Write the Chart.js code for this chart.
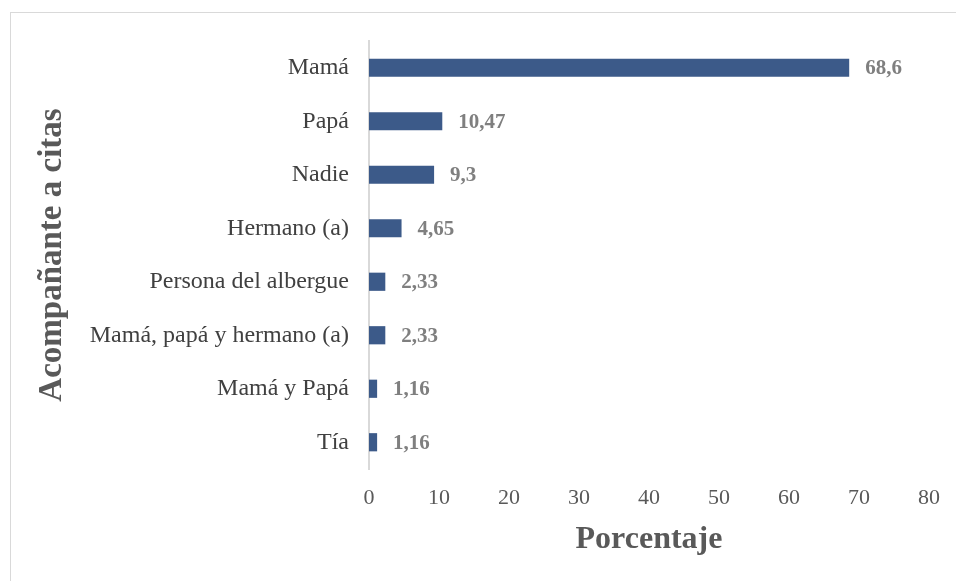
<!DOCTYPE html>
<html>
<head>
<meta charset="utf-8">
<script src="https://cdn.jsdelivr.net/npm/chart.js@4"></script>
<style>
  html, body { margin: 0; padding: 0; background: #fff; }
  #wrap { position: relative; width: 956px; height: 581px; overflow: hidden; }
  #frame { position: absolute; left: 10px; top: 12px; width: 960px; height: 600px; border: 1px solid #d9d9d9; box-sizing: border-box; }
  canvas { position: absolute; left: 0; top: 0; }
</style>
</head>
<body>
<div id="wrap">
  <div id="frame"></div>
  <canvas id="chart" width="956" height="581"></canvas>
</div>
<script>
const categories = ['Mamá', 'Papá', 'Nadie', 'Hermano (a)', 'Persona del albergue', 'Mamá, papá y hermano (a)', 'Mamá y Papá', 'Tía'];
const values = [68.6, 10.47, 9.3, 4.65, 2.33, 2.33, 1.16, 1.16];
const xTicks = [0, 10, 20, 30, 40, 50, 60, 70, 80];

const font = "'Liberation Serif', 'Times New Roman', serif";

// value labels at the end of each bar
const valueLabels = {
    id: 'valueLabels',
    afterDatasetsDraw(chart) {
        const ctx = chart.ctx;
        const meta = chart.getDatasetMeta(0);
        ctx.save();
        ctx.font = 'bold 21px ' + font;
        ctx.fillStyle = '#7f7f7f';
        ctx.textAlign = 'left';
        ctx.textBaseline = 'middle';
        meta.data.forEach((bar, i) => {
            ctx.fillText(String(values[i]).replace('.', ','), bar.x + 16, bar.y + 1);
        });
        ctx.restore();
    }
};

new Chart(document.getElementById('chart'), {
    type: 'bar',
    data: {
        labels: categories,
        datasets: [{
            data: values,
            backgroundColor: '#3c5a89',
            barPercentage: 0.34,
            categoryPercentage: 1,
        }],
    },
    options: {
        indexAxis: 'y',
        responsive: false,
        animation: false,
        layout: { padding: { top: 41, right: 26, left: 0, bottom: 0 } },
        plugins: { legend: { display: false }, tooltip: { enabled: false } },
        scales: {
            x: {
                min: 0,
                max: 80,
                afterBuildTicks: s => { s.ticks = xTicks.map(v => ({ value: v })); },
                afterFit: s => { s.height = 112; },
                grid: { display: false, drawTicks: false },
                border: { display: false },
                ticks: { color: '#595959', font: { family: font, size: 22 }, padding: 16 },
                title: {
                    display: true,
                    text: 'Porcentaje',
                    color: '#595959',
                    font: { family: font, size: 32, weight: 'bold' },
                    padding: { top: 0, bottom: 22 },
                },
            },
            y: {
                afterFit: s => { s.width = 369; },
                grid: { display: false, drawTicks: false },
                border: { display: true, color: '#d9d9d9', width: 2 },
                ticks: { color: '#404040', font: { family: font, size: 24 }, padding: 20 },
                title: {
                    display: true,
                    text: 'Acompañante a citas',
                    color: '#595959',
                    font: { family: font, size: 33, weight: 'bold' },
                    padding: { top: 33, bottom: 0 },
                },
            },
        },
    },
    plugins: [valueLabels],
});
</script>
</body>
</html>
